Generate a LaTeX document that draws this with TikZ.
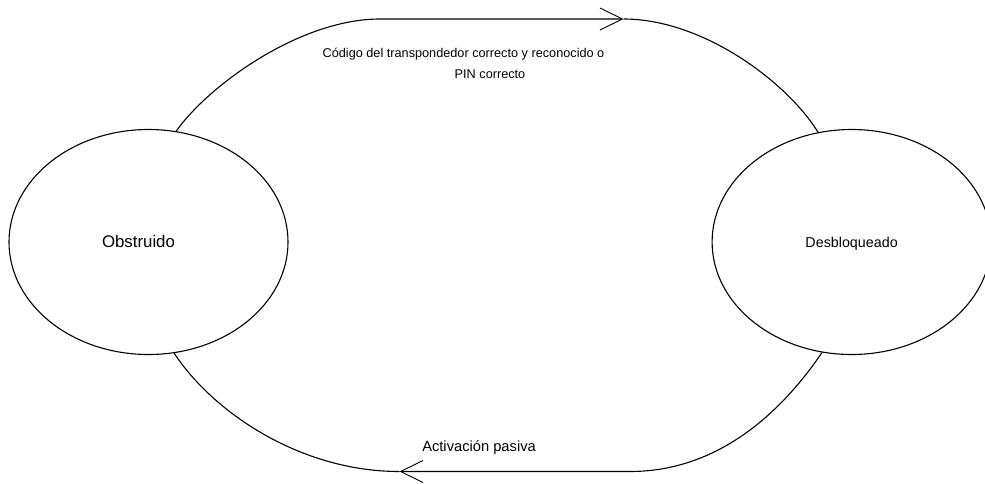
\documentclass[tikz,border=0pt]{standalone}
\usepackage{fontspec}
\setmainfont{Liberation Sans}
\usetikzlibrary{shapes.geometric, arrows.meta}
\usetikzlibrary{positioning}

\begin{document}
\begin{tikzpicture}[
                x=1pt, y=-1pt,
                line width=1.1pt,
                state/.style={
                        draw,
                        ellipse,
                        minimum width=279pt,
                        minimum height=225pt,
                        inner sep=0pt
                    },
                textnode/.style={
                        draw=none,
                        inner sep=0pt,
                        align=center
                    },
                flow/.style={
                        -{Straight Barb[length=22.5pt,width=22pt,line width=0.9pt]}
                    }
            ]

            \useasboundingbox (0,0) rectangle (985,483);

            % The two states
            \node[state] (obs) at (148.5,242) {};
            \node[state, right=423pt of obs] (des) {};

            % Names inside the ellipses
            \node[textnode, anchor=base, font=\fontsize{16.8}{20}\selectfont]
                (obstext) at ([xshift=-10pt,yshift=-5.7pt]obs.center) {Obstruido};
            \node[textnode, anchor=base, font=\fontsize{14.3}{17}\selectfont]
                (destext) at ([yshift=-5.7pt]des.center) {Desbloqueado};

            % Where the arrows sit on the straight parts
            \coordinate (topL) at (380,19);
            \coordinate (topTip) at (623.5,19);
            \coordinate (botR) at (630,471.5);
            \coordinate (botTip) at (399.5,471.5);

            % Upper transition
            \draw[flow] (obs.76) .. controls (209,85) and (300,19) .. (topL) -- (topTip);
            \draw (topTip) .. controls (703,19) and (787,82) .. (des.107);

            % Lower transition
            \draw[flow] (des.255) .. controls (783,410) and (720,471.5) .. (botR) -- (botTip);
            \draw (botTip) .. controls (299,471.5) and (212,411) .. (obs.283);

            % Transition labels
            \node[textnode, anchor=north, font=\fontsize{12.7}{20.7}\selectfont]
                (toplabel) at (463.5,47.4)
                {Código del transpondedor correcto y reconocido o\\ \hspace*{53pt}PIN correcto};
            \node[textnode, anchor=base west, font=\fontsize{14.7}{17}\selectfont]
                (botlabel) at (421.7,451.7) {Activación pasiva};

        \end{tikzpicture}
\end{document}
